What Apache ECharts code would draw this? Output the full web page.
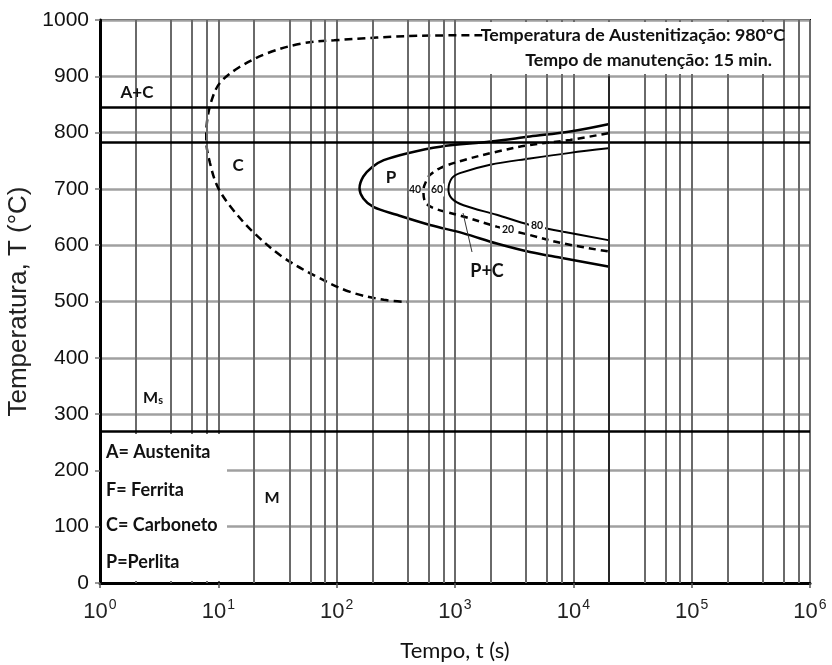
<!DOCTYPE html>
<html>
<head>
<meta charset="utf-8">
<script src="https://cdn.jsdelivr.net/npm/echarts@6/dist/echarts.min.js"></script>
<style>html,body{margin:0;padding:0;background:#fff}#c{width:832px;height:665px}</style>
</head>
<body>
<div id="c"></div>
<script>
// ---- data (time in s, temperature in °C) ----
const xDecades = [1, 10, 100, 1000, 10000, 100000, 1000000];
const minorMultipliers = [2, 4, 6, 8];
const yTicks = [0, 100, 200, 300, 400, 500, 600, 700, 800, 900, 1000];
const phaseLinesT = [845, 783, 270]; // A+C upper, C lower boundary, Ms
const carbideStart = [[1700,973],[500,972],[95,964],[50,958],[26,941],[15,916],[10.3,888],[8.8,858],[8,817],[7.9,787],[8.5,746],[9.9,703],[13.3,663],[20,622],[35,579],[68,544],[130,517],[250,503],[400,499]];
const pearliteStart = [[19700,815],[9400,802],[4300,793],[2000,784],[750,775],[390,763],[250,751],[200,739],[168,722],[156,701],[168,683],[204,668],[322,654],[615,636],[1180,621],[2250,603],[4300,588],[8240,577],[19700,562]];
const pearlite20_40 = [[19700,799],[9400,787],[4300,778],[2250,766],[1180,751],[750,737],[616,725],[577,716],[541,698],[559,677],[657,666],[1180,651],[2250,633],[4300,618],[8240,603],[19700,589]];
const pearlite60_80 = [[19700,772],[9400,764],[4300,754],[1980,743],[1100,728],[940,719],[880,699],[940,683],[1180,671],[2250,654],[4300,636],[8240,624],[19700,609]];
const cutTime = 20000;

const minorGrid = [];
for (let d = 1; d < 1000000; d *= 10) minorMultipliers.forEach(m => minorGrid.push(m * d));

const chart = echarts.init(document.getElementById('c'), null, {renderer: 'canvas'});
const lblFont = 'Lato, "Open Sans", sans-serif';
const arial = '"Liberation Sans", Arial, sans-serif';

function txt(x, y, text, size, extra) {
  return Object.assign({type: 'text', x: x, y: y, z: 51,
    style: Object.assign({text: text, font: 'bold ' + size + 'px ' + lblFont, fill: '#111', align: 'center', verticalAlign: 'middle'}, extra || {})});
}

const option = {
  animation: false,
  backgroundColor: '#fff',
  grid: {left: 100, right: 22, top: 20, bottom: 82, show: true, borderColor: '#000', borderWidth: 2,
         containLabel: false, outerBoundsMode: 'none'},
  xAxis: {
    type: 'log', logBase: 10, min: 1, max: 1000000, interval: 1,
    name: 'Tempo, t (s)', nameLocation: 'middle', nameGap: 57,
    nameTextStyle: {fontFamily: lblFont, fontSize: 22, color: '#111'},
    axisLine: {lineStyle: {color: '#000', width: 3}},
    axisTick: {show: true, length: 5, lineStyle: {color: '#555', width: 1.5}},
    axisLabel: {
      margin: 15, color: '#222',
      formatter: v => '{b|10}{s|' + Math.round(Math.log10(v)) + '}',
      rich: {
        b: {fontFamily: arial, fontSize: 22, color: '#222'},
        s: {fontFamily: arial, fontSize: 14, color: '#222', padding: [0, 0, 13, 1]}
      }
    },
    splitLine: {show: true, lineStyle: {color: '#6a6a6a', width: 2}}
  },
  yAxis: {
    type: 'value', min: 0, max: 1000, interval: 100,
    name: 'Temperatura, T (°C)', nameLocation: 'middle', nameGap: 65,
    nameTextStyle: {fontFamily: arial, fontSize: 26, color: '#222'},
    axisLine: {show: true, lineStyle: {color: '#000', width: 3}},
    axisTick: {show: true, length: 5, lineStyle: {color: '#777', width: 1.5}},
    axisLabel: {margin: 11, fontFamily: arial, fontSize: 21, color: '#111',
      formatter: v => yTicks.indexOf(v) >= 0 ? String(v) : ''},
    splitLine: {show: true, lineStyle: {color: '#a0a0a0', width: 2.5}}
  },
  series: [
    {
      type: 'line', data: [], silent: true, z: 1,
      markLine: {
        silent: true, symbol: 'none', label: {show: false},
        lineStyle: {color: '#6a6a6a', width: 2, type: 'solid'},
        data: minorGrid.map(v => ({xAxis: v}))
      }
    },
    {
      type: 'line', data: [], silent: true, z: 3,
      markLine: {
        silent: true, symbol: 'none', label: {show: false},
        lineStyle: {color: '#000', width: 2.5, type: 'solid'},
        data: phaseLinesT.map(v => ({yAxis: v})).concat([
          [{coord: [cutTime, 0], lineStyle: {width: 1.5, color: '#111'}}, {coord: [cutTime, 900]}]
        ])
      }
    },
    {
      name: 'C start', type: 'line', data: carbideStart, smooth: 0.35, symbol: 'none', z: 4,
      lineStyle: {color: '#000', width: 2.5, type: [8, 5]}
    },
    {
      name: 'P start', type: 'line', data: pearliteStart, smooth: 0.35, symbol: 'none', z: 4,
      lineStyle: {color: '#000', width: 2.5}
    },
    {
      name: 'P 20-40', type: 'line', data: pearlite20_40, smooth: 0.35, symbol: 'none', z: 4,
      lineStyle: {color: '#000', width: 2.5, type: [7, 5]}
    },
    {
      name: 'P 60-80', type: 'line', data: pearlite60_80, smooth: 0.35, symbol: 'none', z: 4,
      lineStyle: {color: '#000', width: 2}
    }
  ],
  graphic: [
    // legend box (lower-left)
    {type: 'rect', left: 102, top: 434, shape: {width: 125, height: 147}, style: {fill: '#fff'}, z: 50},
    txt(106, 452, 'A= Austenita', 18, {align: 'left'}),
    txt(106, 490, 'F= Ferrita', 18, {align: 'left'}),
    txt(106, 525, 'C= Carboneto', 18, {align: 'left'}),
    txt(106, 562, 'P=Perlita', 18, {align: 'left'}),
    // title box (upper-right)
    {type: 'rect', left: 490, top: 22, shape: {width: 290, height: 52}, style: {fill: '#fff'}, z: 50},
    txt(785, 35, 'Temperatura de Austenitização: 980°C', 17.8, {align: 'right'}),
    txt(772, 60, 'Tempo de manutenção: 15 min.', 17.8, {align: 'right'}),
    // region labels
    txt(137, 93, 'A+C', 17),
    txt(238, 166, 'C', 17),
    txt(391, 178, 'P', 17),
    txt(487, 271, 'P+C', 18),
    txt(272, 498, 'M', 16),
    {type: 'text', x: 153, y: 398, z: 51, style: {text: '{m|M}{s|s}', align: 'center', verticalAlign: 'middle',
      rich: {m: {font: 'bold 16px ' + lblFont, fill: '#111'}, s: {font: 'bold 11px ' + lblFont, fill: '#111', padding: [5, 0, 0, 0]}}}},
    // percentage labels on curves
    txt(415, 190, '40', 10.5, {backgroundColor: '#fff', padding: [1, 0]}),
    txt(437, 190, '60', 10.5, {backgroundColor: '#fff', padding: [1, 1]}),
    txt(508, 230, '20', 10.5, {backgroundColor: '#fff', padding: [1, 2]}),
    txt(537, 226, '80', 10.5, {backgroundColor: '#fff', padding: [1, 2]}),
    // leader line from P+C
    {type: 'line', shape: {x1: 463, y1: 213, x2: 472, y2: 252}, style: {stroke: '#333', lineWidth: 1}, z: 51}
  ]
};
chart.setOption(option);
</script>
</body>
</html>
